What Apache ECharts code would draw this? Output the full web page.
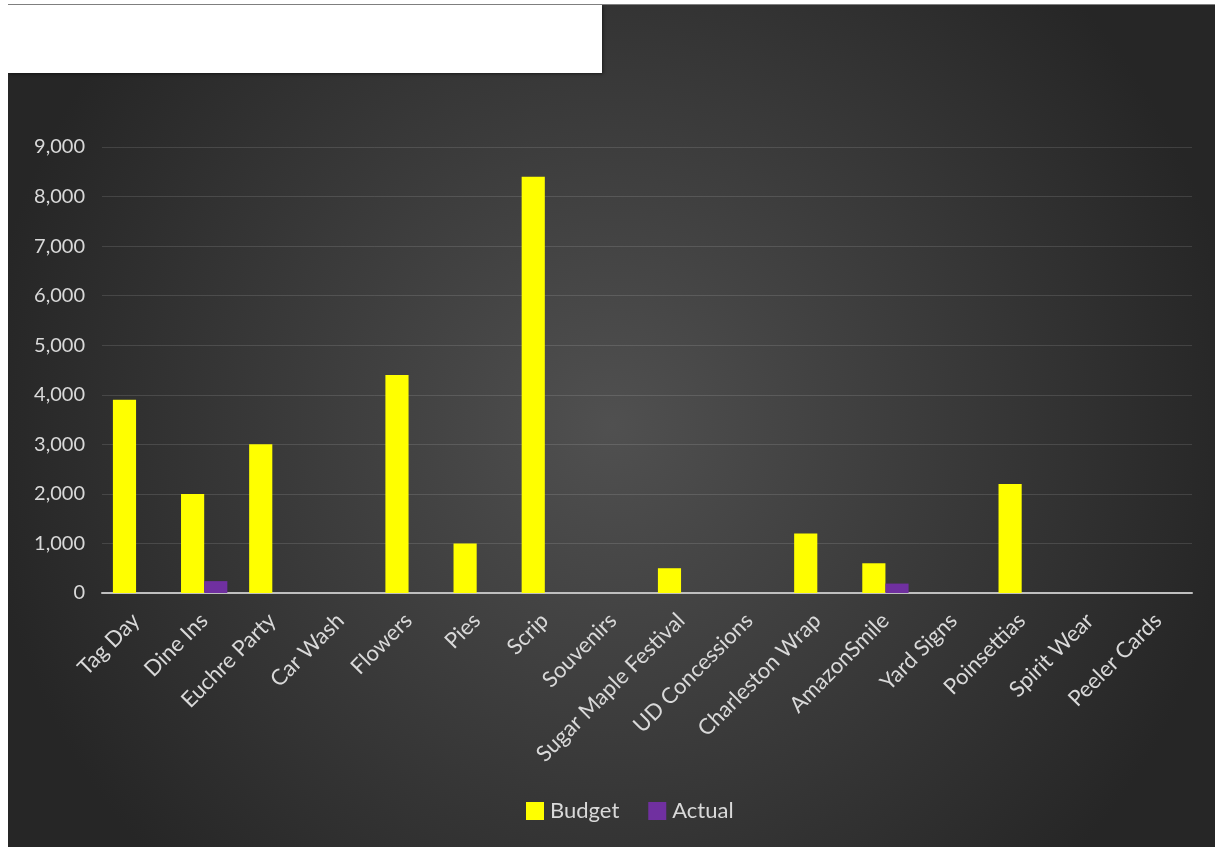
<!DOCTYPE html>
<html>
<head>
<meta charset="utf-8">
<script src="https://cdn.jsdelivr.net/npm/echarts@6/dist/echarts.min.js"></script>
<style>
  html, body { margin: 0; padding: 0; background: #ffffff; }
  #frame { position: absolute; left: 0; top: 0; width: 1215px; height: 847px; background: #ffffff; }
  #chart { position: absolute; left: 8px; top: 4px; width: 1207px; height: 843px; border-top: 1px solid #7f7f7f; box-sizing: border-box; }
</style>
</head>
<body>
<div id="frame"><div id="chart"></div></div>
<script>
// Fundraiser budget vs actual amounts
const categories = ['Tag Day', 'Dine Ins', 'Euchre Party', 'Car Wash', 'Flowers', 'Pies', 'Scrip',
  'Souvenirs', 'Sugar Maple Festival', 'UD Concessions', 'Charleston Wrap', 'AmazonSmile',
  'Yard Signs', 'Poinsettias', 'Spirit Wear', 'Peeler Cards'];
const budget = [3900, 2000, 3000, 0, 4400, 1000, 8400, 0, 500, 0, 1200, 600, 0, 2200, 0, 0];
const actual = [0, 240, 0, 0, 0, 0, 0, 0, 0, 0, 0, 190, 0, 0, 0, 0];
const yTicks = { min: 0, max: 9000, interval: 1000 };

const font = 'Lato, "Open Sans", sans-serif';
const chart = echarts.init(document.getElementById('chart'), null, { renderer: 'canvas' });

chart.setOption({
  backgroundColor: {
    type: 'radial', x: 0.5, y: 0.5, r: 0.75,
    colorStops: [
      { offset: 0, color: '#505050' },
      { offset: 1, color: '#262626' }
    ]
  },
  animation: false,
  graphic: [{
    type: 'rect',
    left: 0, top: 0,
    shape: { width: 594, height: 68 },
    style: { fill: '#ffffff', shadowColor: 'rgba(0,0,0,0.5)', shadowBlur: 3, shadowOffsetX: 1, shadowOffsetY: 1 },
    z: 10
  }],
  grid: { left: 94, right: 23, top: 142, bottom: 254, containLabel: false },
  legend: {
    left: 513, top: 790,
    itemWidth: 18, itemHeight: 18, itemGap: 29,
    icon: 'rect',
    textStyle: { color: '#d9d9d9', fontSize: 22, fontFamily: font, padding: [0, 0, 0, 1] },
    data: ['Budget', 'Actual']
  },
  xAxis: {
    type: 'category',
    data: categories,
    axisLine: { lineStyle: { color: '#bfbfbf', width: 2 } },
    axisTick: { show: false },
    axisLabel: { rotate: 45, color: '#d9d9d9', fontSize: 22, fontFamily: font, margin: 24, interval: 0 }
  },
  yAxis: {
    type: 'value',
    min: yTicks.min, max: yTicks.max, interval: yTicks.interval,
    axisLine: { show: false },
    axisTick: { show: false },
    splitLine: { lineStyle: { color: 'rgba(255,255,255,0.12)', width: 1 } },
    axisLabel: {
      color: '#d9d9d9', fontSize: 20, fontFamily: font, margin: 17,
      formatter: v => v.toLocaleString('en-US')
    }
  },
  series: [
    {
      name: 'Budget', type: 'bar', data: budget,
      itemStyle: { color: '#ffff00' },
      barGap: '0%', barCategoryGap: '32%'
    },
    {
      name: 'Actual', type: 'bar', data: actual,
      itemStyle: { color: '#7030a0' },
      barGap: '0%', barCategoryGap: '32%'
    }
  ]
});
</script>
</body>
</html>
